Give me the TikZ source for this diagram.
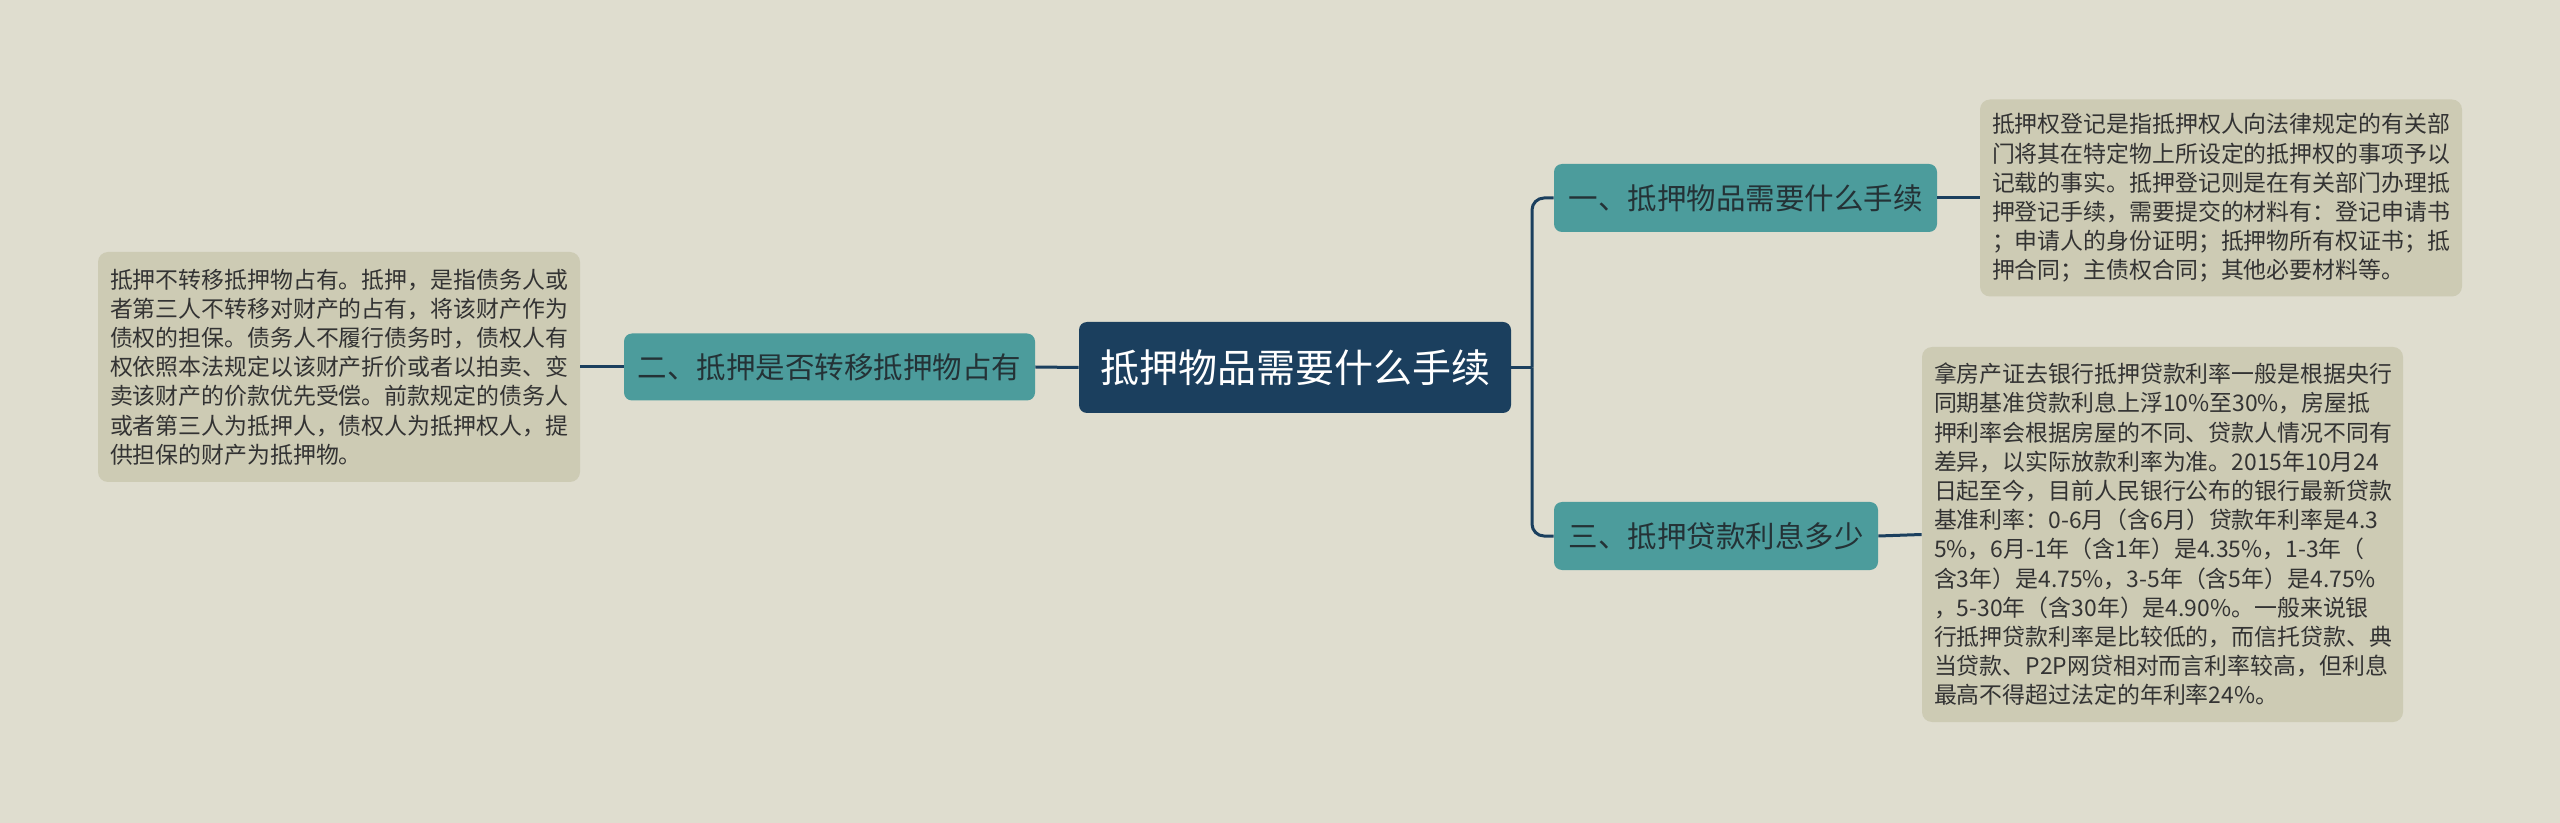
\documentclass[tikz,border=0pt]{standalone}
\usepackage{fontspec}
\setmainfont{Noto Sans CJK SC}
\definecolor{bg}{HTML}{DFDDCF}
\definecolor{leaffill}{HTML}{CDCBB4}
\definecolor{teal1}{HTML}{4C9C9C}
\definecolor{navy}{HTML}{1B3F5E}
\definecolor{tealtext}{HTML}{243236}
\definecolor{leaftext}{HTML}{333333}
\begin{document}
\begin{tikzpicture}[x=0.5pt,y=-0.5pt,
  leafbox/.style={fill=leaffill, rounded corners=5pt, align=left, inner xsep=6pt, inner ysep=0pt,
    font=\fontsize{11.45pt}{14.6pt}\selectfont, text=leaftext},
  topicbox/.style={fill=teal1, rounded corners=4pt, align=center, inner sep=0pt, minimum height=34pt,
    font=\fontsize{14.75pt}{17pt}\selectfont, text=tealtext},
  rootbox/.style={fill=navy, rounded corners=4pt, align=center, inner sep=0pt, minimum width=216pt, minimum height=45.5pt,
    font=\fontsize{19.5pt}{22pt}\selectfont, text=white},
  conn/.style={draw=navy, line width=1.5pt}]
\useasboundingbox[fill=bg] (0,0) rectangle (2560,823);

\node[rootbox] (root) at (1295,367.5) {抵押物品需要什么手续};

\node[topicbox, minimum width=191.5pt] (t1) at (1745.5,198) {一、抵押物品需要什么手续};
\node[topicbox, minimum width=162pt] (t3) at (1716,536) {三、抵押贷款利息多少};
\node[topicbox, minimum width=205.5pt, minimum height=33.5pt] (t2) at (829.5,367) {二、抵押是否转移抵押物占有};

\node[leafbox, text width=229pt, minimum height=98.5pt] (l1) at (2221,198) {抵押权登记是指抵押权人向法律规定的有关部\\门将其在特定物上所设定的抵押权的事项予以\\记载的事实。抵押登记则是在有关部门办理抵\\押登记手续，需要提交的材料有：登记申请书\\；申请人的身份证明；抵押物所有权证书；抵\\押合同；主债权合同；其他必要材料等。};

\node[leafbox, text width=228.5pt, minimum height=187.5pt] (l3) at (2162.5,534.5) {拿房产证去银行抵押贷款利率一般是根据央行\\同期基准贷款利息上浮10\%至30\%，房屋抵\\押利率会根据房屋的不同、贷款人情况不同有\\差异，以实际放款利率为准。2015年10月24\\日起至今，目前人民银行公布的银行最新贷款\\基准利率：0-6月（含6月）贷款年利率是4.3\\5\%，6月-1年（含1年）是4.35\%，1-3年（\\含3年）是4.75\%，3-5年（含5年）是4.75\%\\，5-30年（含30年）是4.90\%。一般来说银\\行抵押贷款利率是比较低的，而信托贷款、典\\当贷款、P2P网贷相对而言利率较高，但利息\\最高不得超过法定的年利率24\%。};

\node[leafbox, text width=229pt, minimum height=115pt] (l2) at (339,367) {抵押不转移抵押物占有。抵押，是指债务人或\\者第三人不转移对财产的占有，将该财产作为\\债权的担保。债务人不履行债务时，债权人有\\权依照本法规定以该财产折价或者以拍卖、变\\卖该财产的价款优先受偿。前款规定的债务人\\或者第三人为抵押人，债权人为抵押权人，提\\供担保的财产为抵押物。};

\coordinate (j) at (1532,367.5);
\draw[conn] (root.east) -- (j);
\draw[conn, rounded corners=6pt] (j) |- (t1.west);
\draw[conn, rounded corners=6pt] (j) |- (t3.west);
\draw[conn] (root.west) -- (t2.east);
\draw[conn] (t2.west) -- (l2.east);
\draw[conn] (t1.east) -- (l1.west);
\draw[conn] (t3.east) -- (l3.west);
\end{tikzpicture}
\end{document}
